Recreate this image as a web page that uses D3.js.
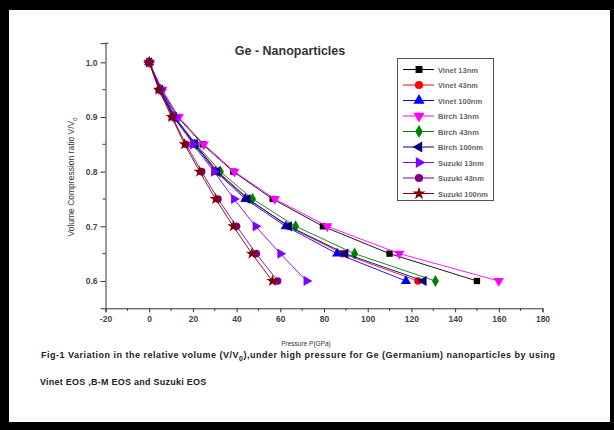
<!DOCTYPE html>
<html>
<head>
<meta charset="utf-8">
<script src="https://cdn.jsdelivr.net/npm/d3@7"></script>
<style>
  body { margin: 0; background: #000; }
  svg { display: block; font-family: "Liberation Sans", Arial, sans-serif; }
</style>
</head>
<body>
<div id="myChart"></div>
<script>
// compression ratio levels (y) shared by all series
let ratios = [1.0, 0.95, 0.9, 0.85, 0.8, 0.75, 0.7, 0.65, 0.6];

// pressure (GPa) for each series at the levels above
let vinet13   = [0, 5.5, 13, 24.5, 38.5, 56.5, 79.5, 110, 150];
let vinet43   = [0, 5, 11.5, 21, 31.5, 45.5, 63.5, 88.5, 123];
let vinet100  = [0, 5, 11, 20.5, 30.5, 44, 62.5, 86, 117.5];
let birch13   = [0, 6, 13.5, 25, 39, 57.5, 81.5, 114.5, 160];
let birch43   = [0, 5.2, 11.8, 21.5, 32.6, 47.3, 67, 94, 131];
let birch100  = [0, 5, 11.3, 21, 31, 45, 64, 89.8, 125.6];
let suzuki13  = [0, 5.5, 12, 20, 29.7, 38.8, 48.7, 60, 72];
let suzuki43  = [0, 4.6, 10.6, 16.8, 24, 31.5, 40, 49, 58.8];
let suzuki100 = [0, 4.4, 10.3, 16.2, 23.1, 30.4, 38.5, 47, 56.4];

let seriesNames = ["Vinet 13nm", "Vinet 43nm", "Vinet 100nm", "Birch 13nm", "Birch 43nm",
                   "Birch 100nm", "Suzuki 13nm", "Suzuki 43nm", "Suzuki 100nm"];
let seriesValues = [vinet13, vinet43, vinet100, birch13, birch43, birch100, suzuki13, suzuki43, suzuki100];
let colors = ["#000000", "#ff0000", "#0000ff", "#ff00ff", "#008000", "#000080", "#8000ff", "#800080", "#800000"];

let xTicks = [-20, 0, 20, 40, 60, 80, 100, 120, 140, 160, 180];
let yTicks = [0.6, 0.7, 0.8, 0.9, 1.0];

let width = 614, height = 430;

let svg = d3.select("#myChart")
  .append("svg")
    .attr("width", width)
    .attr("height", height);

// black frame with white page
svg.append("rect").attr("width", width).attr("height", height).attr("fill", "#000");
svg.append("rect").attr("x", 9).attr("y", 10).attr("width", 601).attr("height", 412).attr("fill", "#fff");

let x = d3.scaleLinear().domain([-20, 180]).range([105.5, 542.5]);
let y = d3.scaleLinear().domain([0.55, 1.035]).range([308.3, 43.2]);

// X axis
let xAxis = svg.append("g")
  .attr("transform", "translate(0," + y(0.55) + ")")
  .call(d3.axisBottom(x).tickValues(xTicks).tickSize(4).tickPadding(4).tickFormat(d => String(d)));
xAxis.append("g").selectAll("line")
  .data(d3.range(-10, 180, 20))
  .enter().append("line")
    .attr("x1", d => x(d)).attr("x2", d => x(d))
    .attr("y1", 0).attr("y2", 2.5)
    .attr("stroke", "#333");

// Y axis
let yAxis = svg.append("g")
  .attr("transform", "translate(" + x(-20) + ",0)")
  .call(d3.axisLeft(y).tickValues(yTicks).tickSize(5).tickPadding(3).tickFormat(d3.format(".1f")));
yAxis.append("g").selectAll("line")
  .data([0.65, 0.75, 0.85, 0.95])
  .enter().append("line")
    .attr("x1", -3).attr("x2", 0)
    .attr("y1", d => y(d)).attr("y2", d => y(d))
    .attr("stroke", "#333");
// small end cap at the top of the y axis
yAxis.append("line").attr("x1", 0).attr("x2", 3).attr("y1", y(1.035)).attr("y2", y(1.035)).attr("stroke", "#333");

svg.selectAll(".domain").attr("stroke", "#333");
svg.selectAll(".tick line").attr("stroke", "#333");
svg.selectAll(".tick text")
  .attr("fill", "#444")
  .style("font-size", "8.5px")
  .style("font-weight", "bold");

// axis titles
svg.append("text")
  .attr("x", 306).attr("y", 346)
  .attr("text-anchor", "middle")
  .style("font-size", "6.5px")
  .attr("fill", "#333")
  .text("Pressure P(GPa)");

let yTitle = svg.append("text")
  .attr("transform", "translate(74,177) rotate(-90)")
  .attr("text-anchor", "middle")
  .style("font-size", "8.5px")
  .attr("fill", "#333");
yTitle.append("tspan").text("Volume Compression ratio V/V");
yTitle.append("tspan").attr("dy", 3).style("font-size", "6px").text("0");

// chart title
svg.append("text")
  .attr("x", 290).attr("y", 55)
  .attr("text-anchor", "middle")
  .style("font-size", "12.5px")
  .style("font-weight", "bold")
  .attr("fill", "#333")
  .text("Ge - Nanoparticles");

// marker shapes
let shapes = [
  {type: d3.symbolSquare, rot: 0, size: 40},
  {type: d3.symbolCircle, rot: 0, size: 45},
  {type: d3.symbolTriangle, rot: 0, size: 45},
  {type: d3.symbolTriangle, rot: 180, size: 45},
  {type: d3.symbolDiamond, rot: 0, size: 42},
  {type: d3.symbolTriangle, rot: -90, size: 45},
  {type: d3.symbolTriangle, rot: 90, size: 45},
  {type: d3.symbolCircle, rot: 0, size: 45},
  {type: d3.symbolStar, rot: 0, size: 45}
];

let line = d3.line()
  .x(d => x(d.p))
  .y(d => y(d.v));

seriesValues.forEach(function (vals, i) {
  let pts = vals.map((p, j) => ({p: p, v: ratios[j]}));
  let g = svg.append("g");
  g.append("path")
    .datum(pts)
    .attr("d", line)
    .attr("fill", "none")
    .attr("stroke", colors[i])
    .attr("stroke-width", 0.9);
  g.selectAll("path.m")
    .data(pts)
    .enter()
    .append("path")
      .attr("class", "m")
      .attr("d", d3.symbol().type(shapes[i].type).size(shapes[i].size))
      .attr("transform", d => "translate(" + x(d.p) + "," + y(d.v) + ") rotate(" + shapes[i].rot + ")")
      .attr("fill", colors[i]);
});

// legend
let legend = svg.append("g");
legend.append("rect")
  .attr("x", 397.5).attr("y", 58.5)
  .attr("width", 96).attr("height", 142)
  .attr("fill", "#fff")
  .attr("stroke", "#555");
seriesNames.forEach(function (name, i) {
  let ly = 69.5 + i * 15.5;
  legend.append("line")
    .attr("x1", 403).attr("x2", 434)
    .attr("y1", ly).attr("y2", ly)
    .attr("stroke", colors[i]);
  legend.append("path")
    .attr("d", d3.symbol().type(shapes[i].type).size(shapes[i].size + 8))
    .attr("transform", "translate(419," + ly + ") rotate(" + shapes[i].rot + ")")
    .attr("fill", colors[i]);
  legend.append("text")
    .attr("x", 438).attr("y", ly + 3)
    .style("font-size", "7.5px")
    .style("font-weight", "bold")
    .attr("fill", "#666")
    .text(name);
});

// caption
let cap1 = svg.append("text")
  .attr("x", 41).attr("y", 358)
  .style("font-size", "9px")
  .style("font-weight", "bold")
  .style("letter-spacing", "0.5px")
  .attr("fill", "#222");
cap1.append("tspan").text("Fig-1 Variation in the relative volume (V/V");
cap1.append("tspan").attr("dy", 3).style("font-size", "7px").text("0");
cap1.append("tspan").attr("dy", -3).text("),under high pressure  for Ge (Germanium) nanoparticles by using");

svg.append("text")
  .attr("x", 40).attr("y", 385)
  .style("font-size", "9px")
  .style("font-weight", "bold")
  .style("letter-spacing", "0.25px")
  .attr("fill", "#222")
  .text("Vinet EOS ,B-M EOS and Suzuki EOS");
</script>
</body>
</html>
